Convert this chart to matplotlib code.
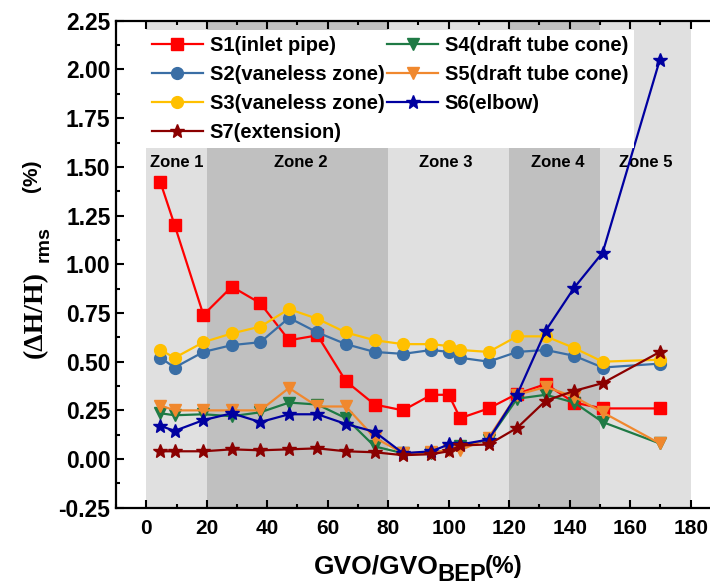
import matplotlib
matplotlib.use("Agg")
import matplotlib.pyplot as plt
from matplotlib.ticker import MultipleLocator

# GVO/GVO_BEP (%) at each operating point
gvo = [4.7, 9.4, 18.9, 28.3, 37.7, 47.2, 56.6, 66.0, 75.5, 84.9, 94.3, 100.0,
       103.8, 113.2, 122.6, 132.1, 141.5, 150.9, 169.8]

# (dH/H)rms (%) at each monitoring location
s1 = [1.42, 1.20, 0.74, 0.885, 0.80, 0.61, 0.635, 0.40, 0.28, 0.25, 0.33, 0.33,
      0.21, 0.26, 0.335, 0.385, 0.29, 0.26, 0.26]
s2 = [0.52, 0.47, 0.55, 0.585, 0.60, 0.725, 0.65, 0.59, 0.55, 0.54, 0.56, 0.55,
      0.52, 0.50, 0.55, 0.56, 0.53, 0.47, 0.49]
s3 = [0.56, 0.52, 0.60, 0.645, 0.68, 0.77, 0.72, 0.65, 0.61, 0.59, 0.59, 0.58,
      0.56, 0.55, 0.63, 0.63, 0.57, 0.50, 0.51]
s4 = [0.235, 0.225, 0.23, 0.22, 0.24, 0.29, 0.28, 0.21, 0.065, 0.03, 0.03, 0.05,
      0.065, 0.10, 0.31, 0.33, 0.29, 0.19, 0.08]
s5 = [0.275, 0.25, 0.25, 0.25, 0.25, 0.365, 0.27, 0.27, 0.11, 0.03, 0.035, 0.045,
      0.045, 0.11, 0.33, 0.37, 0.32, 0.24, 0.08]
s6 = [0.17, 0.145, 0.20, 0.235, 0.19, 0.23, 0.23, 0.18, 0.14, 0.03, 0.04, 0.075,
      0.075, 0.10, 0.33, 0.66, 0.88, 1.06, 2.05]
s7 = [0.04, 0.04, 0.04, 0.05, 0.045, 0.05, 0.055, 0.04, 0.035, 0.02, 0.025, 0.04,
      0.07, 0.075, 0.16, 0.30, 0.35, 0.39, 0.55]

labels = ["S1(inlet pipe)", "S2(vaneless zone)", "S3(vaneless zone)",
          "S4(draft tube cone)", "S5(draft tube cone)", "S6(elbow)", "S7(extension)"]

zone_names = ["Zone 1", "Zone 2", "Zone 3", "Zone 4", "Zone 5"]
zone_edges = [0, 20, 80, 120, 150, 180]
zone_label_x = [10, 51, 99, 136, 165]

yticks = [-0.25, 0, 0.25, 0.5, 0.75, 1.0, 1.25, 1.5, 1.75, 2.0, 2.25]
ytick_labels = ["-0.25", "0.00", "0.25", "0.50", "0.75", "1.00", "1.25",
                "1.50", "1.75", "2.00", "2.25"]
xticks = [0, 20, 40, 60, 80, 100, 120, 140, 160, 180]

plt.rcParams["font.family"] = ["Liberation Sans", "DejaVu Sans"]
plt.rcParams["font.weight"] = "bold"

W, H = 710, 585
fig = plt.figure(figsize=(W / 100, H / 100), dpi=100)
ax = fig.add_axes([0.1634, 0.132, 0.852, 0.8325])


def px(x, y):
    """Figure-pixel position (origin top-left) to figure fraction."""
    return x / W, 1 - y / H


# operating zones as alternating grey bands
zone_colors = ["#e0e0e0", "#c0c0c0", "#e0e0e0", "#c0c0c0", "#e0e0e0"]
for i in range(5):
    ax.axvspan(zone_edges[i], zone_edges[i + 1], color=zone_colors[i], zorder=0, lw=0)
    ax.text(zone_label_x[i], 1.525, zone_names[i], ha="center", va="center",
            fontsize=12, fontweight="bold", zorder=1)

series = [s1, s2, s3, s4, s5, s6, s7]
colors = ["#ff0000", "#3a6ea5", "#ffc000", "#1f7a45", "#f0882e", "#0000a0", "#8b0000"]
markers = ["s", "o", "o", "v", "v", "*", "*"]
msizes = [8, 8.5, 8.5, 9, 9, 10, 10]

handles = []
for y, c, m, ms, lab in zip(series, colors, markers, msizes, labels):
    h, = ax.plot(gvo, y, color=c, marker=m, markersize=ms, lw=1.6,
                 markeredgecolor=c, label=lab, zorder=3)
    handles.append(h)

order = [0, 1, 2, 6, 3, 4, 5]
leg = ax.legend([handles[i] for i in order], [labels[i] for i in order],
                ncol=2, loc="upper left", bbox_to_anchor=(0.05, 0.981),
                borderaxespad=0, frameon=True, fancybox=False, framealpha=1,
                facecolor="white", edgecolor="none",
                handlelength=2.5, handletextpad=0.35, columnspacing=0.15,
                labelspacing=0.5, borderpad=0.3,
                prop={"weight": "bold", "size": 14.5})
leg.set_zorder(5)

ax.set_xlim(-10, 190)
ax.set_ylim(-0.25, 2.25)
ax.xaxis.set_minor_locator(MultipleLocator(10))
ax.yaxis.set_minor_locator(MultipleLocator(0.125))
ax.set_xticks(xticks)
ax.set_yticks(yticks)
ax.set_yticklabels(ytick_labels)

ax.tick_params(which="both", direction="in", top=True, right=True, width=1.5)
ax.tick_params(which="major", length=6)
ax.tick_params(which="minor", length=3)
ax.tick_params(axis="x", which="major", pad=8, labelsize=15)
ax.tick_params(axis="y", which="major", pad=4, labelsize=16.5)
for lbl in ax.get_xticklabels() + ax.get_yticklabels():
    lbl.set_fontweight("bold")
for sp in ax.spines.values():
    sp.set_linewidth(1.6)

# x-axis title: GVO/GVO with a lowered BEP subscript
fig.text(*px(314, 573), "GVO/GVO", fontsize=19, fontweight="bold",
         ha="left", va="baseline")
fig.text(*px(437, 581), "BEP", fontsize=17, fontweight="bold",
         ha="left", va="baseline")
fig.text(*px(485, 573), "(%)", fontsize=17.5, fontweight="bold",
         ha="left", va="baseline")

# y-axis title: (ΔH/H) in serif, rms subscript, then the unit
fig.text(*px(42, 358), "(\u0394H/H)", fontsize=20, fontweight="bold",
         family=["Liberation Serif", "DejaVu Serif"], rotation=90,
         rotation_mode="anchor", ha="left", va="baseline")
fig.text(*px(49, 262), "rms", fontsize=14, fontweight="bold", rotation=90,
         rotation_mode="anchor", ha="left", va="baseline")
fig.text(*px(37, 192), "(%)", fontsize=15, fontweight="bold", rotation=90,
         rotation_mode="anchor", ha="left", va="baseline")

fig.savefig("out.png", dpi=100)
